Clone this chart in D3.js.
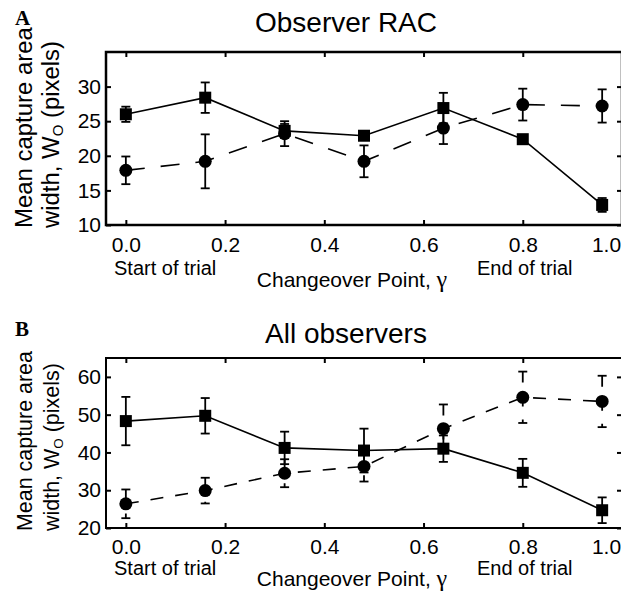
<!DOCTYPE html>
<html>
<head>
<meta charset="utf-8">
<script src="https://cdn.jsdelivr.net/npm/d3@7"></script>
<style>
  body { margin: 0; background: #fff; }
  text { font-family: Arial, "Liberation Sans", Helvetica, sans-serif; fill: #000; }
</style>
</head>
<body>
<svg id="chart" width="621" height="591"></svg>
<script>
// changeover points where data was taken
const gammaPoints = [0, 0.16, 0.32, 0.48, 0.64, 0.8, 0.96];
const xTicks = [0, 0.2, 0.4, 0.6, 0.8, 1.0];

// Panel A: observer RAC
const racSquare    = [26.0, 28.4, 23.6, 22.9, 26.9, 22.4, 12.9];
const racSquareErr = [1.1, 2.2, 1.0, 0.5, 2.2, 0.5, 1.0];
const racCircle    = [17.9, 19.2, 23.2, 19.2, 24.0, 27.4, 27.2];
const racCircleErr = [2.0, 3.9, 1.8, 2.3, 2.3, 2.3, 2.4];
const racYTicks = [10, 15, 20, 25, 30];

// Panel B: all observers
const allSquare    = [48.3, 49.7, 41.2, 40.5, 41.0, 34.6, 24.7];
const allSquareErr = [6.4, 4.7, 4.3, 5.8, 3.5, 3.7, 3.4];
const allCircle    = [26.4, 29.9, 34.5, 36.3, 46.3, 54.6, 53.5];
const allCircleErr = [3.8, 3.4, 3.7, 4.0, 6.4, 6.8, 6.8];
const allYTicks = [20, 30, 40, 50, 60];

const SERIF = '"Liberation Serif", "Times New Roman", serif';

const svg = d3.select('#chart');
const x = d3.scaleLinear().domain([-0.04, 1.0]).range([106, 622]);

function pts(vals, errs) {
  return gammaPoints.map((g, i) => ({ x: g, v: vals[i], e: errs[i] }));
}

// scale a text's font so that it runs to the wanted length
function fitFont(sel, base, target) {
  const k = target / sel.node().getComputedTextLength();
  sel.attr('font-size', base * k);
  sel.selectAll('tspan').each(function() {
    const t = d3.select(this);
    if (t.attr('font-size')) t.attr('font-size', +t.attr('font-size') * k);
    if (t.attr('dy')) t.attr('dy', +t.attr('dy') * k);
  });
}

function drawPanel(p) {
  const y = d3.scaleLinear().domain(p.yDomain).range([p.bottom, p.top]);
  const g = svg.append('g');

  // frame
  g.append('rect')
    .attr('x', x.range()[0]).attr('y', p.top)
    .attr('width', x.range()[1] - x.range()[0])
    .attr('height', p.bottom - p.top)
    .attr('fill', 'none').attr('stroke', '#000').attr('stroke-width', p.frameWidth);

  // axes, ticks pointing inward
  const xb = g.append('g').attr('transform', `translate(0,${p.bottom})`)
    .call(d3.axisBottom(x).tickValues(xTicks).tickSize(-5).tickPadding(p.tickPad).tickFormat(d3.format('.1f')));
  g.append('g').attr('transform', `translate(0,${p.top})`)
    .call(d3.axisTop(x).tickValues(xTicks).tickSize(-5).tickFormat(''));
  g.append('g').attr('transform', `translate(${x.range()[0]},0)`)
    .call(d3.axisLeft(y).tickValues(p.yTicks).tickSize(-5).tickPadding(5));
  g.append('g').attr('transform', `translate(${x.range()[1]},0)`)
    .call(d3.axisRight(y).tickValues(p.yTicks).tickSize(-5).tickFormat(''));
  g.selectAll('.domain').remove();
  g.selectAll('.tick line').attr('stroke', '#000').attr('stroke-width', 2);
  g.selectAll('.tick text').attr('font-size', 21).attr('font-family', null).attr('fill', '#000');
  // last label sits inside the cropped frame
  xb.selectAll('.tick text').filter(d => d === 1.0).attr('dx', -16);

  const line = d3.line().x(d => x(d.x)).y(d => y(d.v));

  p.series.forEach(s => {
    const data = pts(s.values, s.errors);
    const sg = g.append('g');
    sg.append('path').datum(data)
      .attr('d', line)
      .attr('fill', 'none').attr('stroke', '#000').attr('stroke-width', 1.6)
      .attr('stroke-dasharray', s.dash);

    const eb = sg.selectAll('.err').data(data).enter().append('g');
    eb.append('line')
      .attr('x1', d => x(d.x)).attr('x2', d => x(d.x))
      .attr('y1', d => y(d.v + d.e)).attr('y2', d => y(d.v - d.e))
      .attr('stroke', '#000').attr('stroke-width', 1.8)
      .attr('stroke-dasharray', s.errDash);
    [1, -1].forEach(sign => {
      eb.append('line')
        .attr('x1', d => x(d.x) - 4.5).attr('x2', d => x(d.x) + 4.5)
        .attr('y1', d => y(d.v + sign * d.e)).attr('y2', d => y(d.v + sign * d.e))
        .attr('stroke', '#000').attr('stroke-width', 1.8);
    });

    if (s.marker === 'square') {
      sg.selectAll('.mk').data(data).enter().append('rect')
        .attr('x', d => x(d.x) - 6).attr('y', d => y(d.v) - 6)
        .attr('width', 12).attr('height', 12).attr('fill', '#000');
    } else {
      sg.selectAll('.mk').data(data).enter().append('circle')
        .attr('cx', d => x(d.x)).attr('cy', d => y(d.v))
        .attr('r', 6.5).attr('fill', '#000');
    }
  });

  // panel letter and title
  svg.append('text').attr('x', 15).attr('y', p.letterY)
    .style('font-family', SERIF)
    .attr('font-weight', 'bold').attr('font-size', 21).text(p.letter);
  svg.append('text').attr('x', 346).attr('y', p.titleY)
    .attr('text-anchor', 'middle').attr('font-size', 28).text(p.title);

  // y label (two lines)
  const yl1 = svg.append('text')
    .attr('transform', `translate(31.5,${p.bottom + 3}) rotate(-90)`)
    .attr('font-size', 24).text('Mean capture area');
  fitFont(yl1, 24, p.yLabelLen[0]);
  const yl2 = svg.append('text')
    .attr('transform', `translate(59,${p.bottom + 3}) rotate(-90)`)
    .attr('font-size', 24);
  yl2.append('tspan').text('width, W');
  yl2.append('tspan').attr('font-size', 15).attr('dy', 4).text('O');
  yl2.append('tspan').attr('dy', -4).text(' (pixels)');
  fitFont(yl2, 24, p.yLabelLen[1]);

  // x annotations
  svg.append('text').attr('x', 114).attr('y', p.bottom + p.noteOff)
    .attr('font-size', 20).text('Start of trial');
  svg.append('text').attr('x', x(0.8) + 2).attr('y', p.bottom + p.noteOff)
    .attr('text-anchor', 'middle').attr('font-size', 20).text('End of trial');
  const xl = svg.append('text').attr('x', 352).attr('y', p.bottom + p.xLabelOff)
    .attr('text-anchor', 'middle').attr('font-size', 21);
  xl.append('tspan').text('Changeover Point, ');
  xl.append('tspan').style('font-family', SERIF)
    .attr('font-size', 24).text('γ');
}

drawPanel({
  letter: 'A', title: 'Observer RAC', letterY: 25, titleY: 32,
  top: 52, bottom: 225, yDomain: [10, 35], yTicks: racYTicks, frameWidth: 2.5,
  tickPad: 12, noteOff: 50, xLabelOff: 62, yLabelLen: [201, 187],
  series: [
    { values: racSquare, errors: racSquareErr, marker: 'square', dash: null, errDash: null },
    { values: racCircle, errors: racCircleErr, marker: 'circle', dash: '19,16', errDash: null }
  ]
});

drawPanel({
  letter: 'B', title: 'All observers', letterY: 336, titleY: 343,
  top: 358, bottom: 528, yDomain: [20, 65], yTicks: allYTicks, frameWidth: 2,
  tickPad: 11, noteOff: 47, xLabelOff: 58, yLabelLen: [180, 168],
  series: [
    { values: allSquare, errors: allSquareErr, marker: 'square', dash: null, errDash: null },
    { values: allCircle, errors: allCircleErr, marker: 'circle', dash: '13,12', errDash: '11,13' }
  ]
});
</script>
</body>
</html>
